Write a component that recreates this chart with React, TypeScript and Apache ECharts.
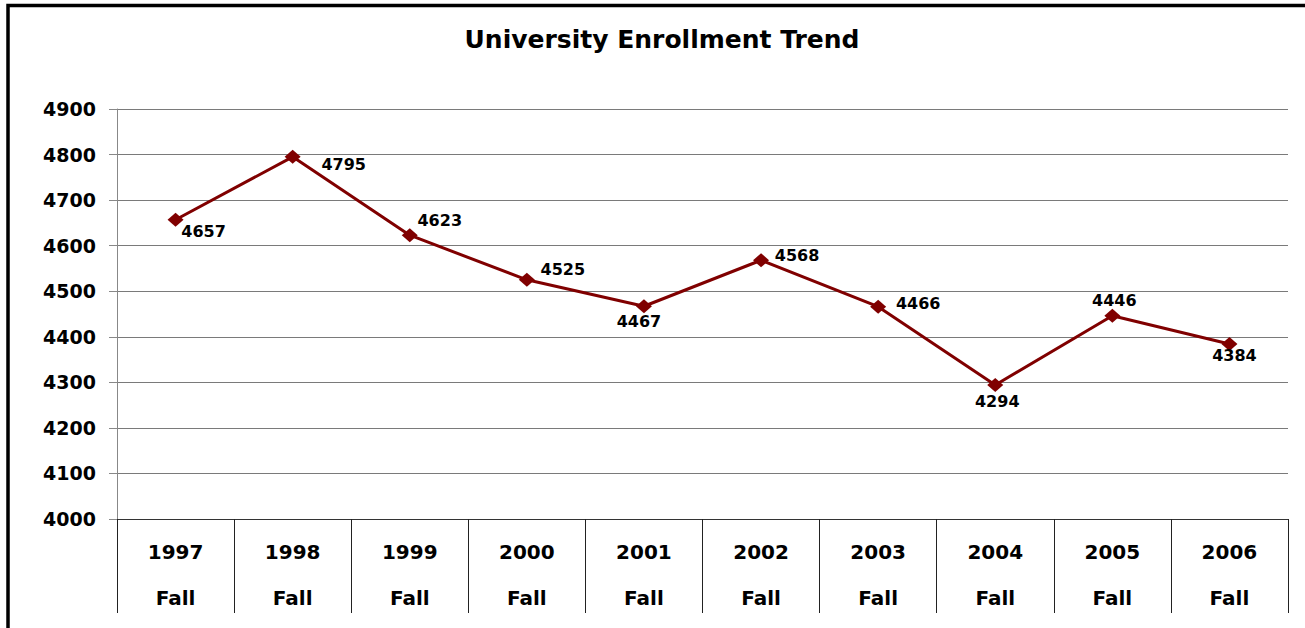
import React, { useEffect, useRef } from "react";
import * as echarts from "echarts";

const categories = ["1997\nFall", "1998\nFall", "1999\nFall", "2000\nFall", "2001\nFall", "2002\nFall", "2003\nFall", "2004\nFall", "2005\nFall", "2006\nFall"];
const enrollment = [4657, 4795, 4623, 4525, 4467, 4568, 4466, 4294, 4446, 4384];
const labelOffsets: [number, number][] = [
  [28, 12], [51, 8], [30, -15], [36, -10], [-5, 15], [36, -5], [40, -3], [2, 16], [2, -15], [5, 11],
];
const yMin = 4000;
const yMax = 4900;
const yStep = 100;
const titleText = "University Enrollment Trend";

const FONT = "'DejaVu Sans', 'Liberation Sans', Arial, sans-serif";

export default function App() {
  const ref = useRef<HTMLDivElement>(null);
  useEffect(() => {
    if (!ref.current) return;
    const chart = echarts.init(ref.current, null, { renderer: "svg" });
    chart.setOption({
      animation: false,
      backgroundColor: "#ffffff",
      title: {
        text: titleText,
        left: 657,
        textAlign: "center",
        top: 22,
        textStyle: { fontFamily: FONT, fontWeight: "bold", fontSize: 25, color: "#000" },
      },
      graphic: [
        {
          type: "rect",
          shape: { x: 8, y: 5.5, width: 1400, height: 700 },
          style: { fill: "none", stroke: "#000", lineWidth: 3.5 },
          silent: true,
          z: 100,
        },
      ],
      grid: { left: 117, top: 109, right: 17, bottom: 109, containLabel: false },
      xAxis: {
        type: "category",
        data: categories,
        boundaryGap: true,
        axisLine: { show: true, lineStyle: { color: "#333", width: 1 } },
        axisTick: { show: true, length: 94, alignWithLabel: false, lineStyle: { color: "#222", width: 1 } },
        axisLabel: {
          margin: 10,
          fontFamily: FONT,
          fontWeight: "bold",
          fontSize: 20,
          lineHeight: 46,
          color: "#000",
          interval: 0,
        },
        splitLine: { show: false },
      },
      yAxis: {
        type: "value",
        min: yMin,
        max: yMax,
        interval: yStep,
        axisLine: { show: true, lineStyle: { color: "#888", width: 1 } },
        axisTick: { show: true, length: 8, lineStyle: { color: "#888" } },
        axisLabel: {
          margin: 21,
          fontFamily: FONT,
          fontWeight: "bold",
          fontSize: 19,
          color: "#000",
          formatter: (v: number) => String(v),
        },
        splitLine: { show: true, lineStyle: { color: "#7a7a7a", width: 1 } },
      },
      series: [
        {
          type: "line",
          data: enrollment.map((v, i) => ({
            value: v,
            label: { offset: labelOffsets[i] },
          })),
          lineStyle: { color: "#800000", width: 3 },
          itemStyle: { color: "#800000" },
          symbol: "diamond",
          symbolSize: [16, 14],
          label: {
            show: true,
            position: "inside",
            fontFamily: FONT,
            fontWeight: "bold",
            fontSize: 16,
            color: "#000",
          },
        },
      ],
    });
    return () => chart.dispose();
  }, []);
  return (
    <div
      ref={ref}
      style={{ position: "fixed", left: 0, top: 0, width: 1305, height: 628 }}
    />
  );
}
